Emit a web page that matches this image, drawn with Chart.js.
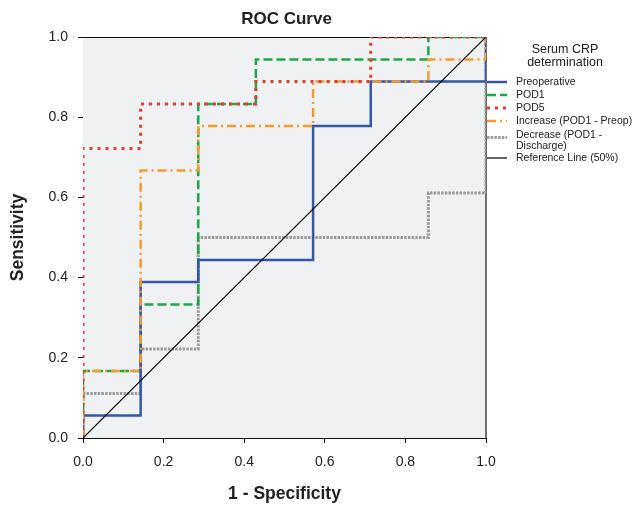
<!DOCTYPE html>
<html>
<head>
<meta charset="utf-8">
<script src="https://cdn.jsdelivr.net/npm/chart.js@4/dist/chart.umd.min.js"></script>
<style>
  html, body { margin: 0; padding: 0; background: #fff; }
  #wrap { width: 633px; height: 505px; }
</style>
</head>
<body>
<div id="wrap"><canvas id="roc"></canvas></div>
<script>
// ROC coordinates (1 - specificity, sensitivity)
const seriesNames = ['Preoperative', 'POD1', 'POD5', 'Increase (POD1 - Preop)', 'Decrease (POD1 - Discharge)', 'Reference Line (50%)'];
const legendLabels = [['Preoperative'], ['POD1'], ['POD5'], ['Increase (POD1 - Preop)'], ['Decrease (POD1 -', 'Discharge)'], ['Reference Line (50%)']];

const preopFpr = [0, 0, 0.143, 0.143, 0.286, 0.286, 0.571, 0.571, 0.714, 0.714, 1, 1];
const preopTpr = [0, 0.056, 0.056, 0.389, 0.389, 0.444, 0.444, 0.778, 0.778, 0.889, 0.889, 1];

const pod1Fpr = [0, 0, 0.143, 0.143, 0.286, 0.286, 0.429, 0.429, 0.857, 0.857, 1];
const pod1Tpr = [0, 0.167, 0.167, 0.333, 0.333, 0.833, 0.833, 0.944, 0.944, 1, 1];

const pod5Fpr = [0, 0, 0.143, 0.143, 0.429, 0.429, 0.714, 0.714, 1];
const pod5Tpr = [0, 0.722, 0.722, 0.833, 0.833, 0.889, 0.889, 1, 1];

const incFpr = [0, 0, 0.143, 0.143, 0.286, 0.286, 0.571, 0.571, 0.857, 0.857, 1, 1];
const incTpr = [0, 0.167, 0.167, 0.667, 0.667, 0.778, 0.778, 0.889, 0.889, 0.944, 0.944, 1];

const decFpr = [0, 0, 0.143, 0.143, 0.286, 0.286, 0.857, 0.857, 1, 1];
const decTpr = [0, 0.111, 0.111, 0.222, 0.222, 0.5, 0.5, 0.611, 0.611, 1];

const refFpr = [0, 1];
const refTpr = [0, 1];

const tickValues = [0, 0.2, 0.4, 0.6, 0.8, 1.0];

function pts(xs, ys) {
  return xs.map((x, i) => ({ x: x, y: ys[i] }));
}

const FONT = "'Liberation Sans', Arial, sans-serif";

const styles = [
  { color: '#3656a6', width: 2.5, dash: [] },
  { color: '#1ea64a', width: 2.5, dash: [9, 4] },
  { color: '#e83a2c', width: 3, dash: [3, 5] },
  { color: '#f59a2e', width: 2.5, dash: [9, 4, 2, 4] },
  { color: '#9c9c9c', width: 3, dash: [2.5, 1.2] },
  { color: '#000000', width: 1.2, dash: [] }
];

const dataPts = [
  pts(preopFpr, preopTpr),
  pts(pod1Fpr, pod1Tpr),
  pts(pod5Fpr, pod5Tpr),
  pts(incFpr, incTpr),
  pts(decFpr, decTpr),
  pts(refFpr, refTpr)
];

// draw order: reference line on top, then red, orange, blue, green, gray
const drawOrder = [4, 5, 2, 3, 6, 1];

const datasets = seriesNames.map((name, i) => ({
  label: name,
  data: dataPts[i],
  borderColor: styles[i].color,
  borderWidth: styles[i].width,
  borderDash: styles[i].dash,
  pointRadius: 0,
  fill: false,
  tension: 0,
  order: drawOrder[i]
}));

const plotFrame = {
  id: 'plotFrame',
  beforeDatasetsDraw(chart) {
    const { ctx, chartArea: a } = chart;
    ctx.save();
    ctx.fillStyle = '#eff1f2';
    ctx.fillRect(a.left, a.top, a.right - a.left, a.bottom - a.top);
    ctx.strokeStyle = '#111';
    ctx.lineWidth = 1;
    ctx.beginPath();
    ctx.moveTo(a.left, a.top + 0.5);
    ctx.lineTo(a.right, a.top + 0.5);
    ctx.stroke();
    ctx.strokeStyle = '#444';
    ctx.lineWidth = 1.5;
    ctx.beginPath();
    ctx.moveTo(a.right, a.top);
    ctx.lineTo(a.right, a.bottom);
    ctx.stroke();
    ctx.restore();
  }
};

// title centred over the plot area, legend to its right
const sideLegend = {
  id: 'sideLegend',
  afterDraw(chart) {
    const { ctx, chartArea: a } = chart;
    ctx.save();
    ctx.fillStyle = '#222';
    ctx.textBaseline = 'middle';
    ctx.textAlign = 'center';
    ctx.font = 'bold 17px ' + FONT;
    ctx.fillText('ROC Curve', (a.left + a.right) / 2 + 2, 19);

    ctx.font = '12.5px ' + FONT;
    ctx.fillText('Serum CRP', 565, 50);
    ctx.fillText('determination', 565, 63);
    const rowY = [82, 95, 108, 121, 135.5, 158];
    const sampleY = [82, 95, 108, 121, 137.5, 158];
    ctx.textAlign = 'left';
    ctx.font = '10.5px ' + FONT;
    chart.data.datasets.forEach((ds, i) => {
      ctx.strokeStyle = ds.borderColor;
      ctx.lineWidth = ds.borderWidth;
      ctx.setLineDash(ds.borderDash);
      ctx.beginPath();
      ctx.moveTo(a.right + 1, sampleY[i]);
      ctx.lineTo(507, sampleY[i]);
      ctx.stroke();
      ctx.setLineDash([]);
      legendLabels[i].forEach((t, k) => ctx.fillText(t, 516, rowY[i] + k * 10.5));
    });
    ctx.restore();
  }
};

new Chart(document.getElementById('roc').getContext('2d'), {
  type: 'line',
  data: { datasets: datasets },
  plugins: [plotFrame, sideLegend],
  options: {
    responsive: true,
    maintainAspectRatio: false,
    animation: false,
    devicePixelRatio: 1,
    layout: { padding: { right: 147, top: 37, left: 0, bottom: 0 } },
    plugins: {
      legend: { display: false },
      tooltip: { enabled: false },
      title: { display: false }
    },
    scales: {
      x: {
        type: 'linear',
        min: 0,
        max: 1,
        afterBuildTicks(s) { s.ticks = tickValues.map(v => ({ value: v })); },
        afterFit(s) { s.height = 67; },
        ticks: {
          color: '#222',
          font: { family: FONT, size: 14 },
          padding: 11,
          maxRotation: 0,
          callback: v => v.toFixed(1)
        },
        grid: { display: true, drawOnChartArea: false, drawTicks: true, tickLength: 5, color: '#111' },
        border: { display: true, color: '#111', width: 1 },
        title: {
          display: true,
          text: '1 - Specificity',
          color: '#222',
          font: { family: FONT, size: 17.5, weight: 'bold' },
          padding: { top: 0, bottom: 0 }
        }
      },
      y: {
        type: 'linear',
        min: 0,
        max: 1,
        afterBuildTicks(s) { s.ticks = tickValues.map(v => ({ value: v })); },
        afterFit(s) { s.width = 83; },
        ticks: {
          color: '#222',
          font: { family: FONT, size: 14 },
          padding: 10,
          callback: v => v.toFixed(1)
        },
        grid: { display: true, drawOnChartArea: false, drawTicks: true, tickLength: 5, color: '#111' },
        border: { display: true, color: '#111', width: 1 },
        title: {
          display: true,
          text: 'Sensitivity',
          color: '#222',
          font: { family: FONT, size: 17.5, weight: 'bold' },
          padding: { top: 8, bottom: 8 }
        }
      }
    }
  }
});
</script>
</body>
</html>
